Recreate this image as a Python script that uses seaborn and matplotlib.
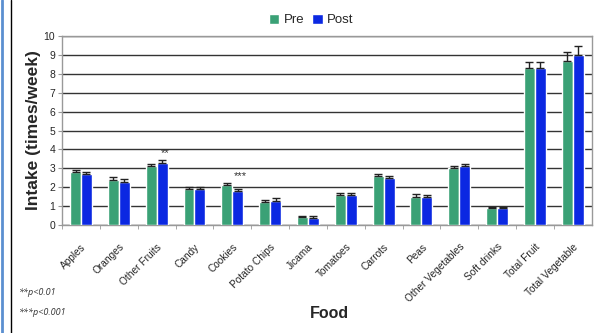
import pandas as pd
import numpy as np
import seaborn as sns
import matplotlib.pyplot as plt
from matplotlib.lines import Line2D

foods = ['Apples', 'Oranges', 'Other Fruits', 'Candy', 'Cookies', 'Potato Chips',
         'Jicama', 'Tomatoes', 'Carrots', 'Peas', 'Other Vegetables', 'Soft drinks',
         'Total Fruit', 'Total Vegetable']
pre = [2.8, 2.4, 3.1, 1.9, 2.1, 1.2, 0.45, 1.6, 2.6, 1.5, 3.0, 0.9, 8.3, 8.7]
post = [2.7, 2.3, 3.3, 1.9, 1.8, 1.3, 0.4, 1.6, 2.5, 1.5, 3.1, 0.9, 8.3, 9.0]
pre_err = [0.12, 0.12, 0.12, 0.1, 0.12, 0.12, 0.05, 0.12, 0.1, 0.12, 0.12, 0.05, 0.3, 0.45]
post_err = [0.12, 0.12, 0.12, 0.1, 0.1, 0.12, 0.07, 0.12, 0.1, 0.1, 0.12, 0.05, 0.3, 0.45]
signif = {'Other Fruits': '**', 'Cookies': '***'}

df = pd.DataFrame({'Food': foods * 2,
                   'Time': ['Pre'] * len(foods) + ['Post'] * len(foods),
                   'Intake': pre + post,
                   'Err': pre_err + post_err})

sns.set_style('white')
plt.rcParams['font.family'] = ['Liberation Sans', 'DejaVu Sans']
palette = ['#3aa176', '#0b28e2']

fig, ax = plt.subplots(figsize=(5.97, 3.33), dpi=100)
fig.subplots_adjust(left=0.104, right=0.991, top=0.892, bottom=0.324)

sns.barplot(data=df, x='Food', y='Intake', hue='Time', palette=palette,
            width=0.58, gap=0, errorbar=None, saturation=1, ax=ax, zorder=3)

# error bars on top of each bar
for cont, t in zip(ax.containers, ['Pre', 'Post']):
    errs = df.loc[df.Time == t, 'Err'].values
    xs = [p.get_x() + p.get_width() / 2 for p in cont.patches]
    ys = [p.get_height() for p in cont.patches]
    ax.errorbar(xs, ys, yerr=[np.zeros(len(errs)), errs], fmt='none',
                ecolor='#222222', elinewidth=1, capsize=3, capthick=1, zorder=4)

for food, star in signif.items():
    i = foods.index(food)
    y = max(post[i] + post_err[i], pre[i] + pre_err[i])
    ax.text(i + 0.22, y + 0.1, star, ha='center', va='bottom', fontsize=8, color='#333333')

ax.set_ylim(0, 10)
ax.set_xlim(-0.5, len(foods) - 0.5)
ax.set_yticks(range(0, 11))
ax.yaxis.grid(True, color='#333333', linewidth=1, zorder=0)
ax.set_axisbelow(True)
for s in ax.spines.values():
    s.set_color('#999999')
    s.set_linewidth(1)
ax.tick_params(axis='y', length=3, color='#999999', labelsize=7.5, pad=2, left=True)
ax.set_xticks(np.arange(len(foods)))
ax.set_xticklabels(foods, rotation=45, ha='right', rotation_mode='anchor', fontsize=7.3)
ax.tick_params(axis='x', length=0, pad=12)
ax.set_xticks(np.arange(len(foods)) - 0.5, minor=True)
ax.tick_params(axis='x', which='minor', length=3, color='#999999', bottom=True)

ax.set_ylabel('Intake (times/week)', fontsize=12.5, fontweight='bold', labelpad=2)
ax.set_xlabel('Food', fontsize=11.5, fontweight='bold')
ax.xaxis.set_label_coords(0.505, -0.43)

ax.legend(loc='center', bbox_to_anchor=(0.47, 1.085), ncol=2, frameon=False,
          fontsize=9.5, handlelength=0.8, handleheight=0.8, handletextpad=0.3,
          columnspacing=0.6, borderaxespad=0)

fig.text(0.03, 0.115, '**p<0.01', fontsize=6.5, style='italic', color='#333333',
         family=['Open Sans', 'DejaVu Sans'])
fig.text(0.03, 0.055, '***p<0.001', fontsize=6.5, style='italic', color='#333333',
         family=['Open Sans', 'DejaVu Sans'])

fig.add_artist(Line2D([0.003, 0.003], [0, 1], color='#5b8fd0', linewidth=2, transform=fig.transFigure))
fig.add_artist(Line2D([0.019, 0.019], [0, 1], color='black', linewidth=1, transform=fig.transFigure))

fig.savefig('out.png', dpi=100)
